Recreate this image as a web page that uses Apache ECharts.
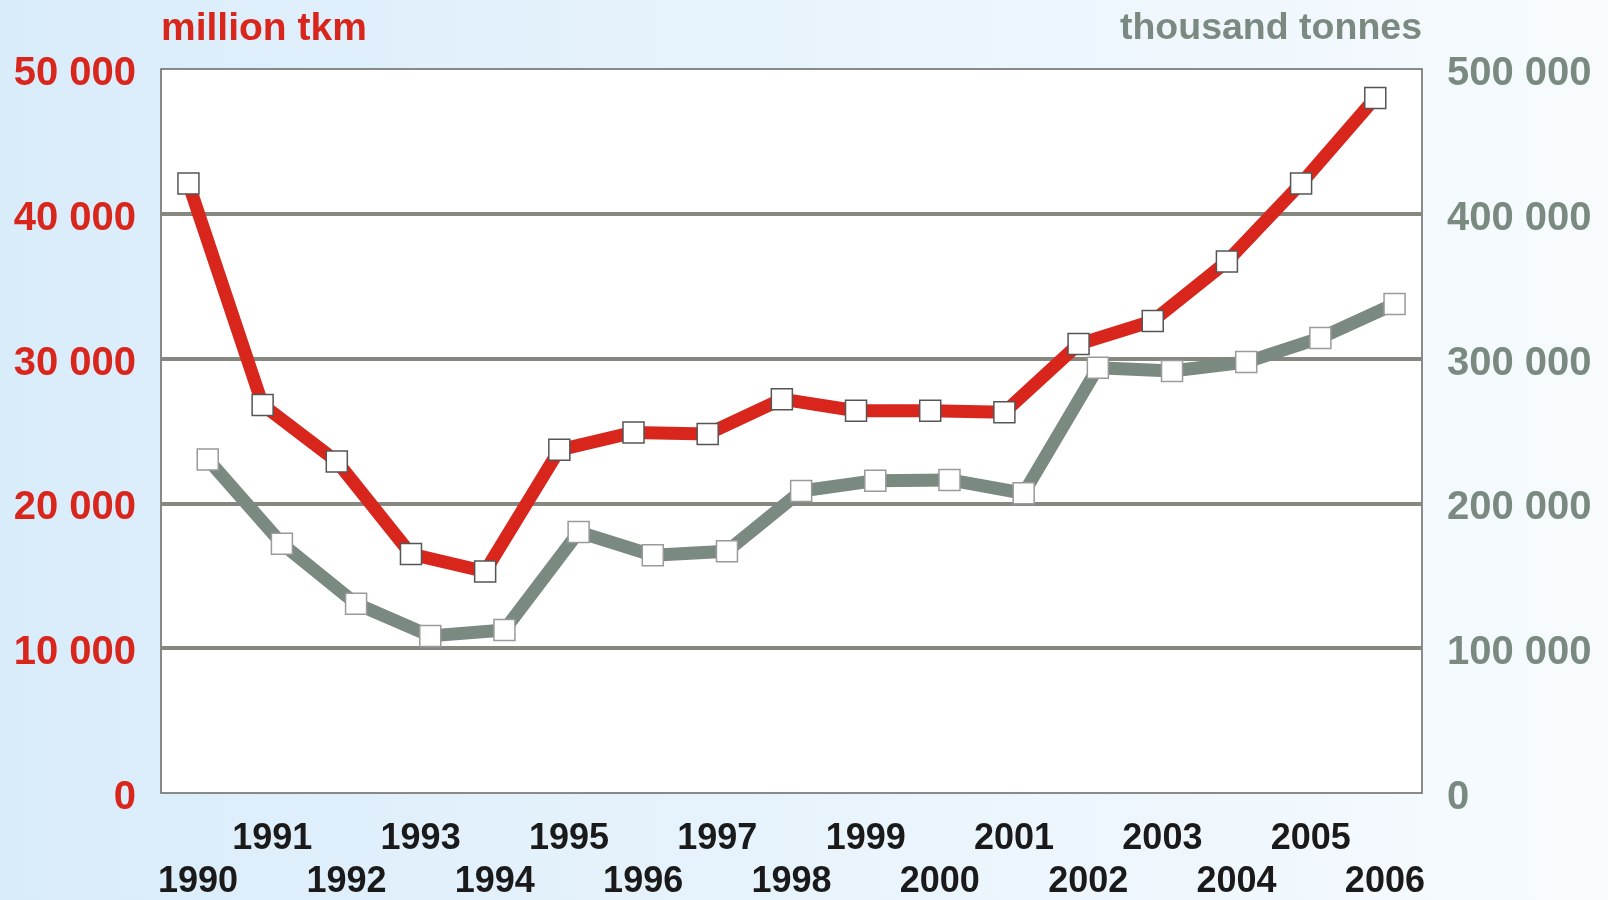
<!DOCTYPE html>
<html>
<head>
<meta charset="utf-8">
<script src="https://cdn.jsdelivr.net/npm/echarts@6/dist/echarts.min.js"></script>
<style>
  html, body { margin: 0; padding: 0; }
  #chart { width: 1608px; height: 900px; }
</style>
</head>
<body>
<div id="chart"></div>
<script>
// years on the category axis
const years = ["1990", "1991", "1992", "1993", "1994", "1995", "1996", "1997", "1998",
  "1999", "2000", "2001", "2002", "2003", "2004", "2005", "2006"];

// million tkm (left axis)
const tkm = [42100, 26800, 22900, 16500, 15300, 23700, 24900, 24800, 27200,
  26400, 26400, 26300, 31000, 32600, 36700, 42100, 48000];

// thousand tonnes (right axis)
const tonnes = [230400, 172100, 130700, 108500, 112600, 180200, 164200, 166900, 208600,
  215700, 216200, 207000, 293700, 291400, 297600, 314300, 337700];

const RED = "#d8261d";
const GREY = "#7a8a80";
const FONT = "'Liberation Sans', Arial, sans-serif";

// the two series sit a little left / right of each year's centre
const SHIFT = 0.13;

// "50000" -> "{n|50 000}"
function spaced(v) {
  return "{n|" + String(v).replace(/\B(?=(\d{3})+(?!\d))/g, " ") + "}";
}

function toPoints(values, dx) {
  return values.map((v, i) => [i + 0.5 + dx, v]);
}

function valueLabel(color) {
  return {
    formatter: spaced,
    margin: 25,
    rich: {
      n: {
        color: color,
        fontFamily: FONT,
        fontWeight: "bold",
        fontSize: 40,
        lineHeight: 40,
        padding: [10, 0, 0, 0],
      },
    },
  };
}

const chart = echarts.init(document.getElementById("chart"));

const labelBase = {
  color: "#1a1a1a",
  fontFamily: FONT,
  fontWeight: "bold",
  fontSize: 36,
};

chart.setOption({
  backgroundColor: new echarts.graphic.LinearGradient(0, 0, 1, 0, [
    { offset: 0, color: "#d9ecfa" },
    { offset: 1, color: "#f7fbfe" },
  ]),
  animation: false,
  grid: {
    left: 161,
    top: 69,
    width: 1261,
    height: 727,
    show: true,
    backgroundColor: "#ffffff",
    borderColor: "#666666",
    borderWidth: 1.5,
  },
  xAxis: [
    {
      type: "value",
      min: 0,
      max: years.length,
      show: false,
    },
    {
      type: "category",
      data: years,
      position: "bottom",
      boundaryGap: true,
      axisLine: { show: false },
      axisTick: { show: false },
      axisLabel: Object.assign({}, labelBase, {
        margin: 28,
        interval: (i) => i % 2 === 1,
      }),
    },
    {
      type: "category",
      data: years,
      position: "bottom",
      boundaryGap: true,
      axisLine: { show: false },
      axisTick: { show: false },
      axisLabel: Object.assign({}, labelBase, {
        margin: 71,
        interval: (i) => i % 2 === 0,
      }),
    },
  ],
  yAxis: [
    {
      type: "value",
      position: "left",
      min: 0,
      max: 50000,
      interval: 10000,
      name: "million tkm",
      nameLocation: "end",
      nameGap: 40,
      nameTextStyle: {
        color: RED,
        fontFamily: FONT,
        fontWeight: "bold",
        fontSize: 39,
        align: "left",
        verticalAlign: "middle",
      },
      axisLine: { show: false },
      axisTick: { show: false },
      axisLabel: valueLabel(RED),
      splitLine: {
        show: true,
        showMinLine: false,
        showMaxLine: false,
        lineStyle: { color: "#86877e", width: 4 },
      },
    },
    {
      type: "value",
      position: "right",
      min: 0,
      max: 500000,
      interval: 100000,
      name: "thousand tonnes",
      nameLocation: "end",
      nameGap: 40,
      nameTextStyle: {
        color: GREY,
        fontFamily: FONT,
        fontWeight: "bold",
        fontSize: 37.5,
        align: "right",
        verticalAlign: "middle",
      },
      axisLine: { show: false },
      axisTick: { show: false },
      axisLabel: valueLabel(GREY),
      splitLine: { show: false },
    },
  ],
  series: [
    {
      name: "million tkm",
      type: "line",
      xAxisIndex: 0,
      yAxisIndex: 0,
      data: toPoints(tkm, -SHIFT),
      lineStyle: { color: RED, width: 13 },
      symbol: "rect",
      symbolSize: 21,
      itemStyle: { color: "#ffffff", borderColor: "#555555", borderWidth: 1.5 },
      z: 3,
    },
    {
      name: "thousand tonnes",
      type: "line",
      xAxisIndex: 0,
      yAxisIndex: 1,
      data: toPoints(tonnes, SHIFT),
      lineStyle: { color: GREY, width: 13 },
      symbol: "rect",
      symbolSize: 21,
      itemStyle: { color: "#ffffff", borderColor: "#9a9a9a", borderWidth: 1.5 },
      z: 4,
    },
  ],
});
</script>
</body>
</html>
